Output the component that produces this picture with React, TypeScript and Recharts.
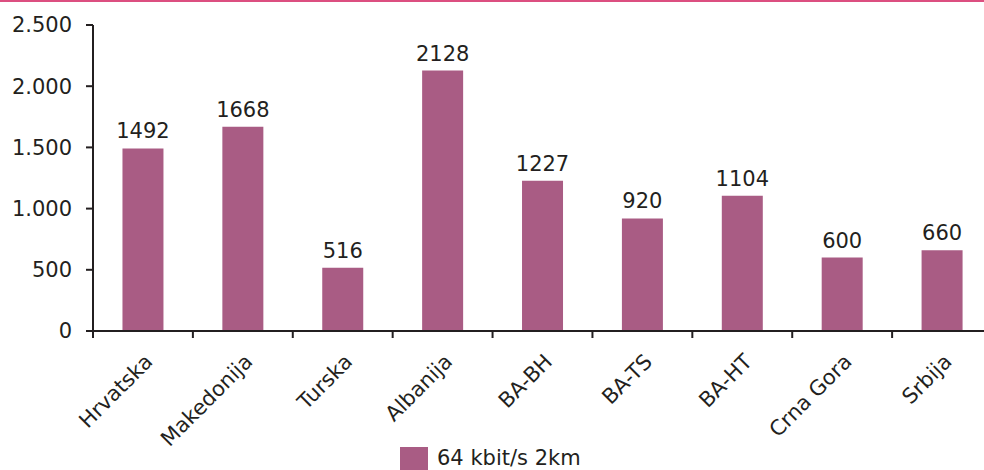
import React from 'react';
import { BarChart, Bar, XAxis, YAxis, LabelList } from 'recharts';

const categories = ['Hrvatska', 'Makedonija', 'Turska', 'Albanija', 'BA-BH', 'BA-TS', 'BA-HT', 'Crna Gora', 'Srbija'];
const values = [1492, 1668, 516, 2128, 1227, 920, 1104, 600, 660];
const yTicks = [0, 500, 1000, 1500, 2000, 2500];
const seriesName = '64 kbit/s 2km';

const data = categories.map((c, i) => ({ name: c, value: values[i] }));

const FONT = '"DejaVu Sans", sans-serif';
const TEXT = '#231f20';
const BAR = '#a95c84';
const AXIS = '#231f20';

const fmt = (v: number) => v.toString().replace(/\B(?=(\d{3})+(?!\d))/g, '.');

const CHART_W = 992;
const BAND = (CHART_W - 93) / categories.length;

const XTick = (props: any) => {
  const { x, y, payload } = props;
  const ax = x + 11;
  const ay = y + 32;
  return (
    <g>
      <line x1={x - BAND / 2} x2={x - BAND / 2} y1={y - 1} y2={y + 7} stroke={AXIS} strokeWidth={2} />
      <text
        x={ax}
        y={ay}
        textAnchor="end"
        transform={`rotate(-45 ${ax} ${ay})`}
        fill={TEXT}
        fontFamily={FONT}
        fontSize={21}
      >
        {payload.value}
      </text>
    </g>
  );
};

export default function App() {
  return (
    <div style={{ position: 'absolute', left: 0, top: 0, width: 984, height: 470, overflow: 'hidden', background: '#fff' }}>
      <div style={{ position: 'absolute', left: 0, top: 0, width: 984, height: 2, background: '#dc4f80' }} />
      <BarChart
        width={CHART_W}
        height={470}
        data={data}
        margin={{ top: 25, right: 0, left: 0, bottom: 39 }}
        barCategoryGap="29.5%"
      >
        <YAxis
          width={93}
          domain={[0, 2500]}
          ticks={yTicks}
          tickFormatter={fmt}
          axisLine={{ stroke: AXIS, strokeWidth: 2 }}
          tickLine={{ stroke: AXIS, strokeWidth: 2 }}
          tickSize={7}
          tickMargin={14}
          tick={{ fill: TEXT, fontFamily: FONT, fontSize: 21 }}
          interval={0}
        />
        <XAxis
          dataKey="name"
          height={100}
          interval={0}
          axisLine={{ stroke: AXIS, strokeWidth: 2 }}
          tickLine={false}
          tickSize={0}
          tickMargin={0}
          tick={<XTick />}
        />
        <Bar dataKey="value" name={seriesName} fill={BAR} isAnimationActive={false}>
          <LabelList dataKey="value" position="top" offset={10} fill={TEXT} fontFamily={FONT} fontSize={21} />
        </Bar>
      </BarChart>
      <div style={{ position: 'absolute', left: 400, top: 447, display: 'flex', alignItems: 'center', fontFamily: FONT, fontSize: 21, color: TEXT }}>
        <div style={{ width: 28, height: 23, background: BAR, marginRight: 9 }} />
        <span style={{ lineHeight: '23px' }}>{seriesName}</span>
      </div>
    </div>
  );
}
